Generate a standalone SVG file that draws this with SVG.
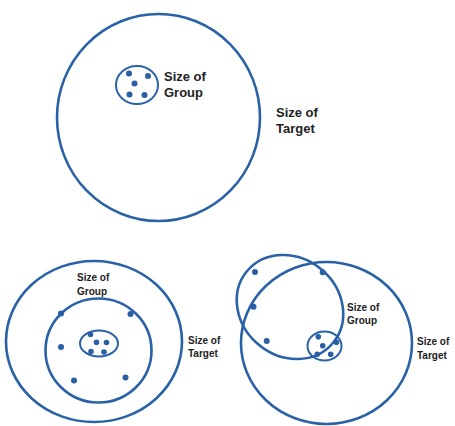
<svg xmlns="http://www.w3.org/2000/svg" width="455" height="426" viewBox="0 0 455 426">
<style>
.ring{fill:none;stroke:#2a62a8;stroke-width:2.6}
.small{fill:none;stroke:#2a62a8;stroke-width:2}
.dot{fill:#2a5fa3}
.lbl{font-family:"Liberation Sans",Arial,sans-serif;font-weight:bold;fill:#222}
.big{font-size:13px}
.sm{font-size:10px}
</style>
<rect width="455" height="426" fill="#fff"/>
<g id="top-target">
<ellipse class="ring" cx="158.5" cy="117.5" rx="101.5" ry="103.5"/>
</g>
<g id="top-group">
<ellipse class="small" cx="137" cy="85" rx="21" ry="19"/>
<circle class="dot" cx="129" cy="73.5" r="3"/>
<circle class="dot" cx="148" cy="76" r="3"/>
<circle class="dot" cx="134.5" cy="83.5" r="3"/>
<circle class="dot" cx="129.5" cy="94.5" r="3"/>
<circle class="dot" cx="144.5" cy="95" r="3"/>
</g>
<g id="top-labels">
<text class="lbl big" x="164" y="81">Size of</text>
<text class="lbl big" x="164" y="97">Group</text>
<text class="lbl big" x="276" y="117">Size of</text>
<text class="lbl big" x="276" y="133">Target</text>
</g>
<g id="bl-target">
<ellipse class="ring" cx="94" cy="341.5" rx="88" ry="80.5"/>
</g>
<g id="bl-group">
<ellipse class="ring" cx="98.5" cy="350.5" rx="53" ry="52"/>
<circle class="dot" cx="61" cy="313.5" r="3"/>
<circle class="dot" cx="130.5" cy="314" r="3"/>
<circle class="dot" cx="61" cy="347" r="3"/>
<circle class="dot" cx="74" cy="380.5" r="3"/>
<circle class="dot" cx="125.5" cy="377.5" r="3"/>
</g>
<g id="bl-small">
<ellipse class="small" cx="99" cy="343.5" rx="19" ry="13"/>
<circle class="dot" cx="90.5" cy="334.5" r="2.8"/>
<circle class="dot" cx="96.5" cy="342.3" r="2.8"/>
<circle class="dot" cx="106.5" cy="342.5" r="2.8"/>
<circle class="dot" cx="91" cy="351.5" r="2.8"/>
<circle class="dot" cx="104" cy="352" r="2.8"/>
</g>
<g id="bl-labels">
<text class="lbl sm" x="77" y="281">Size of</text>
<text class="lbl sm" x="77" y="295">Group</text>
<text class="lbl sm" x="188" y="344">Size of</text>
<text class="lbl sm" x="188" y="357">Target</text>
</g>
<g id="br-target">
<ellipse class="ring" cx="326.5" cy="343" rx="85.5" ry="81"/>
</g>
<g id="br-group">
<ellipse class="ring" cx="290" cy="307" rx="56" ry="49" transform="rotate(40 290 307)"/>
<circle class="dot" cx="255" cy="272" r="3"/>
<circle class="dot" cx="322.7" cy="272.3" r="3"/>
<circle class="dot" cx="253.5" cy="306.7" r="3"/>
<circle class="dot" cx="266.7" cy="341" r="3"/>
</g>
<g id="br-small">
<ellipse class="small" cx="324.5" cy="346" rx="17" ry="14.5"/>
<circle class="dot" cx="318.3" cy="336.7" r="2.8"/>
<circle class="dot" cx="336.5" cy="342.3" r="2.8"/>
<circle class="dot" cx="322.7" cy="345.7" r="2.8"/>
<circle class="dot" cx="317.3" cy="354.3" r="2.8"/>
<circle class="dot" cx="330.7" cy="354.3" r="2.8"/>
</g>
<g id="br-labels">
<text class="lbl sm" x="347" y="311">Size of</text>
<text class="lbl sm" x="347" y="324">Group</text>
<text class="lbl sm" x="417" y="345">Size of</text>
<text class="lbl sm" x="417" y="359">Target</text>
</g>
</svg>
